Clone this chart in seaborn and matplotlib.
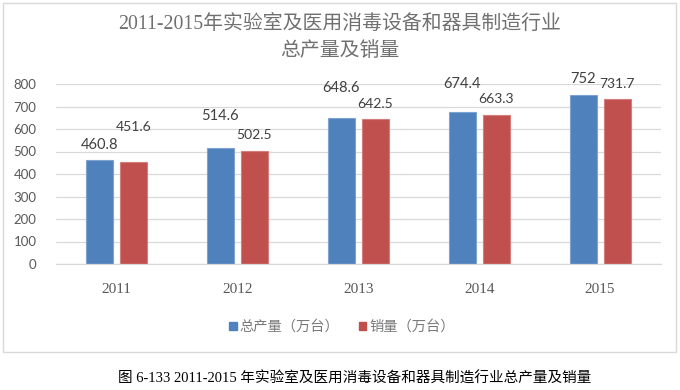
import matplotlib
matplotlib.use("Agg")
import matplotlib.pyplot as plt
import matplotlib.patches as mpatches
import seaborn as sns
import pandas as pd

years = ["2011", "2012", "2013", "2014", "2015"]
production = [460.8, 514.6, 648.6, 674.4, 752]
sales = [451.6, 502.5, 642.5, 663.3, 731.7]
series_names = ["总产量（万台）", "销量（万台）"]
yticks = [0, 100, 200, 300, 400, 500, 600, 700, 800]
title_lines = ["2011-2015年实验室及医用消毒设备和器具制造行业", "总产量及销量"]
caption = "图 6-133 2011-2015 年实验室及医用消毒设备和器具制造行业总产量及销量"

# label offsets above bar tops (pixels), as placed in the reference
prod_label_off = [15, 32, 30, 28, 15.5]
sales_label_off = [35, 16, 15, 16, 15]

df = pd.DataFrame({
    "year": years * 2,
    "value": production + sales,
    "series": [series_names[0]] * len(years) + [series_names[1]] * len(years),
})

sns.set_theme(style="white")
CJK = ["Noto Sans CJK SC", "DejaVu Sans"]
plt.rcParams["font.family"] = CJK

colors = ["#4F81BD", "#C0504D"]
edge_colors = ["#7FA3D0", "#D47E7C"]
gray = "#595959"

fig = plt.figure(figsize=(6.8, 3.9), dpi=100)
ax = fig.add_axes([56 / 680, 1 - 264 / 390, (660.5 - 56) / 680, 180 / 390])

sns.barplot(data=df, x="year", y="value", hue="series", order=years,
            hue_order=series_names, palette=colors, width=0.562, gap=0.206,
            legend=False, ax=ax, saturation=1)

for cont, ec in zip(ax.containers, edge_colors):
    for b in cont:
        b.set_edgecolor(ec)
        b.set_linewidth(0.8)

ax.set_ylim(0, 800)
ax.set_xlim(-0.5, 4.5)
ax.set_yticks(yticks)
ax.set_yticklabels([str(v) for v in yticks], family=["Lato", "DejaVu Sans"],
                   fontsize=9.5, color=gray)
ax.set_xticks(range(len(years)))
ax.set_xticklabels(years, family=["Liberation Serif", "DejaVu Serif"],
                   fontsize=11, color=gray)
ax.tick_params(axis="y", length=0, pad=14)
ax.tick_params(axis="x", length=0, pad=14)
ax.set_xlabel("")
ax.set_ylabel("")
ax.grid(axis="y", color="#D9D9D9", linewidth=0.9)
ax.set_axisbelow(True)
for s in ["top", "right", "left"]:
    ax.spines[s].set_visible(False)
ax.spines["bottom"].set_color("#D9D9D9")
ax.spines["bottom"].set_linewidth(0.9)

vals = [production, sales]
offs = [prod_label_off, sales_label_off]
sizes = [10.5, 10]
for cont, v, o, fs in zip(ax.containers, vals, offs, sizes):
    for b, val, off in zip(cont, v, o):
        txt = f"{val:g}"
        ax.annotate(txt, (b.get_x() + b.get_width() / 2, b.get_height()),
                    xytext=(0, off * 0.72), textcoords="offset points",
                    ha="center", va="center", fontsize=fs, color="#404040",
                    family=["Lato", "DejaVu Sans"])

# titles
title_color = "#707070"
fig.text(0.5, 1 - 25 / 390, title_lines[0], ha="center", va="center",
         fontsize=14.3, color=title_color,
         family=["Liberation Serif", "Noto Sans CJK SC"], fontweight="light")
fig.text(0.5, 1 - 51 / 390, title_lines[1], ha="center", va="center",
         fontsize=14.3, color=title_color, family=["Noto Sans CJK SC"],
         fontweight="light")

# legend
handles = [mpatches.Patch(facecolor=c, edgecolor=c, label=n)
           for c, n in zip(colors, series_names)]
leg = fig.legend(handles=handles, loc="center", bbox_to_anchor=(0.503, 1 - 327 / 390),
                 ncol=2, frameon=False, fontsize=10.3, handlelength=0.5,
                 handleheight=0.5, handletextpad=0.2, columnspacing=1.4)
for t in leg.get_texts():
    t.set_color("#7a7a7a")

# outer chart border
border = mpatches.Rectangle((3 / 680, 1 - 352 / 390), 673 / 680, 349 / 390,
                            transform=fig.transFigure, fill=False,
                            edgecolor="#D9D9D9", linewidth=1.0)
fig.patches.append(border)

# caption
fig.text(355 / 680, 1 - 379 / 390, caption, ha="center", va="center",
         fontsize=10.5, color="black", family=["Liberation Serif", "Noto Sans CJK SC"])

fig.savefig("out.png", dpi=100)
